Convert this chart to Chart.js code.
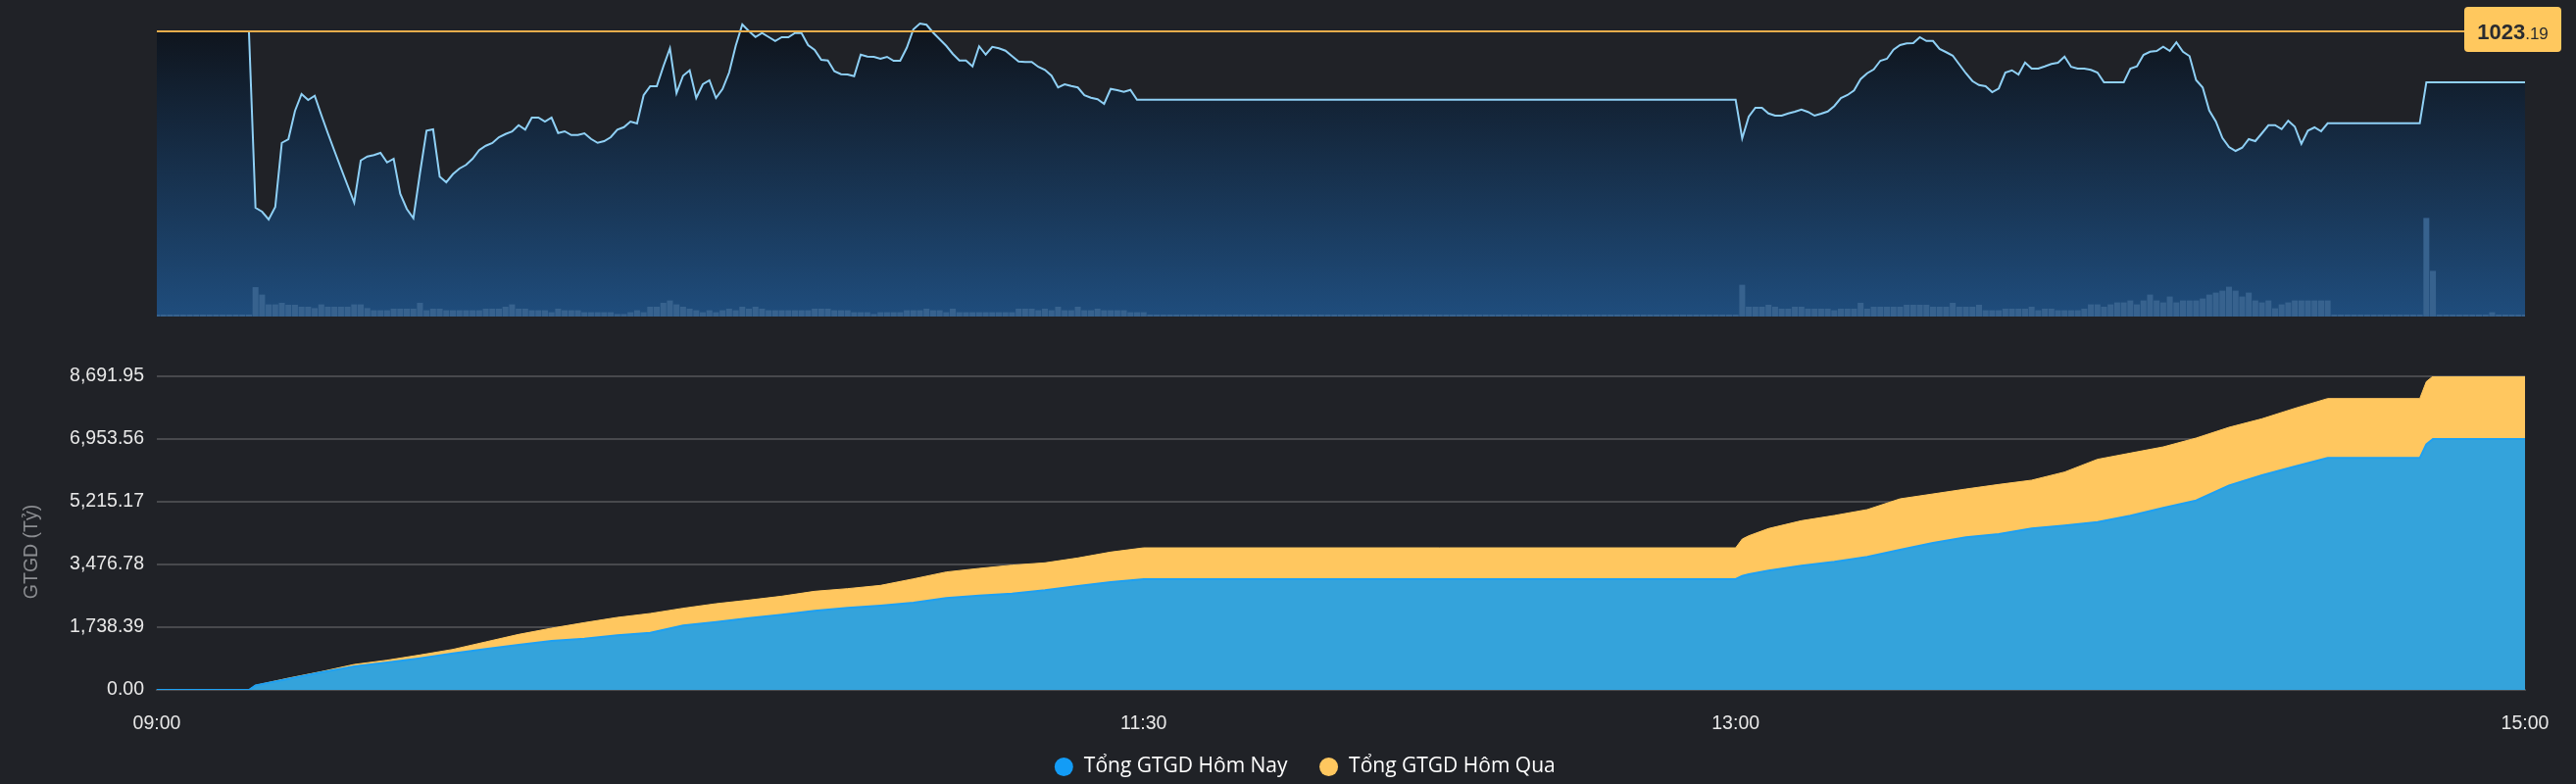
<!DOCTYPE html>
<html><head><meta charset="utf-8">
<script src="https://cdn.jsdelivr.net/npm/chart.js@4.4.0/dist/chart.umd.min.js"></script>
<style>
html,body{margin:0;padding:0;background:#202227;}
#wrap{position:relative;width:2628px;height:800px;background:#202227;overflow:hidden;}
canvas{position:absolute;left:0;}
#top{top:0;}
#bottom{top:340px;}
</style></head><body>
<div id="wrap"><canvas id="top" width="2628" height="340"></canvas><canvas id="bottom" width="2628" height="460"></canvas></div>
<script>
// ---------------- DATA ----------------
const refPrice = 1023.19;
const openTime = "09:00";
const preOpenEnd = "09:14";
const morningStart = "09:15";
// index, one value per minute 09:15 .. 11:30
const priceMorning = [
 1015.99,1015.83,1015.51,1016.02,1018.64,1018.79,1019.94,1020.63,1020.39,1020.56,
 1019.78,1019.03,1018.31,1017.60,1016.90,1016.20,1017.92,1018.08,1018.14,1018.23,
 1017.84,1017.99,1016.56,1015.94,1015.56,1017.40,1019.14,1019.19,1017.26,1017.03,
 1017.36,1017.59,1017.74,1017.99,1018.34,1018.52,1018.63,1018.87,1019.00,1019.10,
 1019.36,1019.18,1019.67,1019.67,1019.51,1019.67,1019.04,1019.11,1018.96,1018.96,
 1019.03,1018.80,1018.64,1018.71,1018.87,1019.18,1019.28,1019.51,1019.43,1020.58,
 1020.95,1020.95,1021.76,1022.50,1020.67,1021.38,1021.60,1020.47,1021.03,1021.19,
 1020.47,1020.84,1021.51,1022.60,1023.47,1023.20,1022.96,1023.12,1022.96,1022.80,
 1022.95,1022.95,1023.12,1023.12,1022.63,1022.43,1022.03,1022.00,1021.56,1021.44,
 1021.43,1021.36,1022.24,1022.16,1022.15,1022.07,1022.15,1021.99,1021.99,1022.52,
 1023.27,1023.51,1023.46,1023.14,1022.87,1022.60,1022.27,1022.00,1022.00,1021.76,
 1022.58,1022.24,1022.56,1022.50,1022.40,1022.18,1021.96,1021.94,1021.94,1021.74,
 1021.62,1021.38,1020.90,1021.03,1020.96,1020.90,1020.58,1020.48,1020.42,1020.23,
 1020.84,1020.79,1020.72,1020.80,1020.40,1020.40
];
const afternoonStart = "13:00";
// index, one value per minute 13:00 .. 14:30
const priceAfternoon = [
 1020.40,1018.82,1019.71,1020.07,1020.07,1019.84,1019.75,1019.75,1019.84,1019.91,
 1020.00,1019.90,1019.75,1019.83,1019.92,1020.14,1020.47,1020.59,1020.78,1021.24,
 1021.48,1021.64,1021.99,1022.07,1022.44,1022.63,1022.70,1022.71,1022.95,1022.80,
 1022.80,1022.47,1022.34,1022.20,1021.84,1021.48,1021.16,1021.00,1020.95,1020.71,
 1020.86,1021.51,1021.60,1021.43,1021.92,1021.67,1021.67,1021.76,1021.86,1021.91,
 1022.16,1021.74,1021.67,1021.67,1021.62,1021.51,1021.11,1021.11,1021.11,1021.11,
 1021.67,1021.76,1022.23,1022.36,1022.39,1022.56,1022.39,1022.74,1022.36,1022.18,
 1021.20,1020.90,1019.96,1019.51,1018.84,1018.47,1018.31,1018.44,1018.79,1018.71,
 1019.03,1019.36,1019.36,1019.20,1019.54,1019.30,1018.60,1019.14,1019.27,1019.11,
 1019.44
];
const atcTime = "14:45";
const atcPrice = 1021.11;
const closeTime = "15:00";

// volume, one value per minute 09:00 .. 15:00
const volumeStart = "09:00";
const volume = [
 0,0,0,0,0,0,0,0,0,0, 0,0,0,0,0,
 15.0,11.2,6.2,6.2,7.0,6.0,6.0,5.0,5.0,4.3,
 6.2,5.0,5.0,5.0,5.0,6.2,6.2,4.3,3.2,3.2,
 3.2,4.0,4.0,4.0,4.0,7.0,3.2,4.0,4.0,3.2,
 3.2,3.2,3.2,3.2,3.2,4.0,4.0,4.0,5.0,6.2,
 4.0,4.0,3.2,3.2,3.2,2.2,4.0,3.2,3.2,3.2,
 2.2,2.2,2.2,2.2,2.2,1.3,1.3,2.2,3.2,2.2,
 5.0,5.0,7.0,8.2,6.2,5.0,4.0,3.2,2.2,3.2,
 2.2,3.2,4.0,3.2,5.0,4.0,5.0,4.0,3.2,3.2,
 3.2,3.2,3.2,3.2,3.2,4.0,4.0,4.0,3.2,3.2,
 3.2,2.2,2.2,2.2,1.3,2.2,2.2,2.2,2.2,3.2,
 3.2,3.2,4.0,3.2,3.2,2.2,4.0,2.2,2.2,2.2,
 2.2,2.2,2.2,2.2,2.2,2.2,4.0,4.0,4.0,3.2,
 4.0,3.2,5.0,3.2,3.2,5.0,3.2,3.2,4.0,3.2,
 3.2,3.2,3.2,2.2,2.2,2.2,
 0,0,0,0,0,0,0,0,0,0, 0,0,0,0,0,0,0,0,0,0,
 0,0,0,0,0,0,0,0,0,0, 0,0,0,0,0,0,0,0,0,0,
 0,0,0,0,0,0,0,0,0,0, 0,0,0,0,0,0,0,0,0,0,
 0,0,0,0,0,0,0,0,0,0, 0,0,0,0,0,0,0,0,0,0,
 0,0,0,0,0,0,0,0,0,0,
 16.2,5.0,5.0,5.0,6.0,5.0,4.0,4.0,5.0,5.0,
 4.0,4.0,4.0,4.0,3.2,4.0,4.0,4.0,7.0,4.0,
 5.0,5.0,5.0,5.0,5.0,6.0,6.0,6.0,6.0,5.0,
 5.0,5.0,7.0,5.0,5.0,5.0,6.0,3.2,3.2,3.2,
 4.0,4.0,4.0,4.0,5.0,3.2,4.0,4.0,3.2,3.2,
 3.2,3.2,4.0,6.2,6.2,5.0,6.2,7.2,7.2,8.2,
 6.2,8.2,11.2,8.2,7.2,10.2,7.2,8.2,8.2,8.2,
 9.2,11.2,12.2,13.2,15.2,13.2,10.2,12.2,8.2,7.2,
 8.2,4.2,6.2,7.2,8.2,8.2,8.2,8.2,8.2,8.2,
 0,0,0,0,0,0,0,0,0,0,0,0,0,0,
 50.3,23.3,
 0,0,0,0,0,0,0,0,
 2.2,
 0,0,0,0,0
];

const gtgdTimes = ["09:00","09:14","09:15","09:20","09:25","09:30","09:35","09:40","09:45","09:50",
 "09:55","10:00","10:05","10:10","10:15","10:20","10:25","10:30","10:35","10:40",
 "10:45","10:50","10:55","11:00","11:05","11:10","11:15","11:20","11:25","11:30",
 "13:00","13:01","13:02","13:05","13:10","13:15","13:20","13:25","13:30","13:35",
 "13:40","13:45","13:50","13:55","14:00","14:05","14:10","14:15","14:20","14:25",
 "14:30","14:44","14:45","14:46","15:00"];
const gtgdToday = [0,0,127,308,489,652,761,878,1014,1132,
 1249,1358,1421,1512,1584,1784,1883,1992,2082,2191,
 2273,2336,2417,2544,2617,2671,2761,2879,2988,3069,
 3069,3160,3205,3305,3441,3549,3685,3884,4074,4228,
 4319,4473,4554,4654,4826,5043,5251,5668,5948,6193,
 6428,6428,6809,6953.56,6953.56];
const gtgdYesterday = [0,0,127,326,507,706,824,969,1123,1331,
 1539,1711,1865,2010,2119,2264,2390,2490,2598,2734,
 2807,2897,3078,3268,3368,3459,3522,3658,3821,3938,
 3938,4183,4273,4473,4690,4835,4998,5297,5432,5568,
 5695,5813,6039,6392,6564,6736,6981,7279,7515,7805,
 8076,8076,8547,8691.95,8691.95];
const gtgdTicks = [0, 1738.39, 3476.78, 5215.17, 6953.56, 8691.95];
const timeTicks = ["09:00","11:30","13:00","15:00"];
const seriesNames = ["Tổng GTGD Hôm Nay","Tổng GTGD Hôm Qua"];
const axisTitle = "GTGD (Tỷ)";

// ---------------- HELPERS ----------------
const TICK_FONT = '"Liberation Sans", Arial, Helvetica, sans-serif';
function toMin(t){const p=t.split(':').map(Number);return (p[0]-9)*60+p[1];}
function fmtTime(v){const h=9+Math.floor(v/60), m=Math.round(v%60);return String(h).padStart(2,'0')+':'+String(m).padStart(2,'0');}

const pricePts = [{x:toMin(openTime),y:refPrice},{x:toMin(preOpenEnd),y:refPrice}];
priceMorning.forEach((v,i)=>pricePts.push({x:toMin(morningStart)+i,y:v}));
priceAfternoon.forEach((v,i)=>pricePts.push({x:toMin(afternoonStart)+i,y:v}));
pricePts.push({x:toMin(atcTime)-1,y:priceAfternoon[priceAfternoon.length-1]});
pricePts.push({x:toMin(atcTime),y:atcPrice},{x:toMin(closeTime),y:atcPrice});
const volPts = volume.map((v,i)=>({x:toMin(volumeStart)+i,y:v}));
const refPts = [{x:toMin(openTime),y:refPrice},{x:toMin(closeTime),y:refPrice}];

function priceFill(context){
  const ch=context.chart, a=ch.chartArea;
  if(!a) return 'rgba(0,0,0,0)';
  const g=ch.ctx.createLinearGradient(0,a.top,0,a.bottom);
  g.addColorStop(0,'#0e1117');
  g.addColorStop(1,'#1f4d7d');
  return g;
}

const refLabelPlugin = {
  id:'refLabel',
  afterDatasetsDraw(chart){
    const c=chart.ctx, a=chart.chartArea;
    const y=chart.scales.y.getPixelForValue(refPrice);
    const parts=refPrice.toFixed(2).split('.');
    const bx=a.right-62, by=y-25, bw=99, bh=46;
    c.save();
    c.fillStyle='#ffc85e';
    c.beginPath();
    if(c.roundRect) c.roundRect(bx,by,bw,bh,4); else c.rect(bx,by,bw,bh);
    c.fill();
    c.font='bold 22px '+TICK_FONT;
    const w1=c.measureText(parts[0]).width;
    c.font='17px '+TICK_FONT;
    const w2=c.measureText('.'+parts[1]).width;
    let tx=bx+(bw-w1-w2)/2;
    c.fillStyle='#2a2b2f';
    c.textBaseline='alphabetic';
    c.textAlign='left';
    c.font='bold 22px '+TICK_FONT;
    c.fillText(parts[0],tx,y+8);
    c.font='17px '+TICK_FONT;
    c.fillText('.'+parts[1],tx+w1,y+8);
    c.restore();
  }
};

const titlePlugin = {
  id:'yTitle',
  afterLayout(chart){
    // let the x tick labels use the space down to the legend, and shift legend to its place
    const xs=chart.scales.x;
    xs.bottom = xs.top + 60;
    if(chart.legend){ chart.legend.left += 13; chart.legend.right += 13; chart.legend.top += 3; chart.legend.bottom += 3; }
  },
  afterDraw(chart){
    const c=chart.ctx, a=chart.chartArea;
    c.save();
    c.translate(33,(a.top+a.bottom)/2+19);
    c.rotate(-Math.PI/2);
    c.fillStyle='#8b8d91';
    c.font='19.5px '+TICK_FONT;
    c.textAlign='center';
    c.textBaseline='middle';
    c.fillText(axisTitle,0,0);
    c.restore();
  }
};

// ---------------- TOP CHART ----------------
new Chart(document.getElementById('top'), {
  type:'line',
  data:{datasets:[
    {type:'line',data:refPts,borderColor:'#e6ad4c',borderWidth:2,pointRadius:0,yAxisID:'y',order:0},
    {type:'line',data:pricePts,borderColor:'#8fd0f5',borderWidth:2,pointRadius:0,tension:0,fill:'start',backgroundColor:priceFill,yAxisID:'y',order:3},
    {type:'bar',data:volPts,backgroundColor:'#37628e',yAxisID:'yv',order:2,barPercentage:1,categoryPercentage:0.9,minBarLength:2}
  ]},
  options:{
    responsive:false,animation:false,devicePixelRatio:1,
    layout:{padding:{left:160,right:52,top:12,bottom:17}},
    plugins:{legend:{display:false},tooltip:{enabled:false}},
    scales:{
      x:{type:'linear',min:0,max:360,display:false,offset:false,grid:{offset:false}},
      y:{min:1011.55,max:1023.99,display:false},
      yv:{min:0,max:155.5,display:false,beginAtZero:true}
    }
  },
  plugins:[refLabelPlugin]
});

// ---------------- BOTTOM CHART ----------------
const legendColors = ['#139cf6','#ffc75f'];
new Chart(document.getElementById('bottom'), {
  type:'line',
  data:{datasets:[
    {label:seriesNames[0],data:gtgdTimes.map((t,i)=>({x:toMin(t),y:gtgdToday[i]})),borderColor:'#1ea0f2',borderWidth:2,backgroundColor:'#34a3db',fill:'origin',pointRadius:0,tension:0,order:1},
    {label:seriesNames[1],data:gtgdTimes.map((t,i)=>({x:toMin(t),y:gtgdYesterday[i]})),borderColor:'#ffc75f',borderWidth:1,backgroundColor:'#ffc75f',fill:'origin',pointRadius:0,tension:0,order:2}
  ]},
  options:{
    responsive:false,animation:false,devicePixelRatio:1,
    layout:{padding:{left:60,right:52,top:44,bottom:0}},
    plugins:{
      tooltip:{enabled:false},
      legend:{position:'bottom',labels:{
        usePointStyle:true,pointStyle:'circle',boxWidth:20,boxHeight:13.4,padding:32,color:'#ffffff',
        font:{family:'"Open Sans", "Noto Sans", sans-serif',size:21},
        generateLabels:(chart)=>chart.data.datasets.map((ds,i)=>({text:ds.label,fillStyle:legendColors[i],strokeStyle:legendColors[i],lineWidth:0,pointStyle:'circle',hidden:false,datasetIndex:i,fontColor:'#ffffff'}))
      }}
    },
    scales:{
      x:{type:'linear',min:0,max:360,offset:false,z:1,
        grid:{display:false},
        border:{display:true,color:'#48494d',width:2},
        afterBuildTicks:(s)=>{s.ticks=timeTicks.map(t=>({value:toMin(t)}));},
        afterFit:(s)=>{s.height=33;},
        ticks:{autoSkip:false,maxRotation:0,padding:15,color:'#e8e8e8',font:{family:TICK_FONT,size:19.5},callback:(v)=>fmtTime(v)}
      },
      y:{min:0,max:gtgdTicks[gtgdTicks.length-1],
        afterBuildTicks:(s)=>{s.ticks=gtgdTicks.map(v=>({value:v}));},
        afterFit:(s)=>{s.width=100;},
        grid:{color:'#48494d',lineWidth:2,drawTicks:false},
        border:{display:false},
        ticks:{padding:13,color:'#e8e8e8',font:{family:TICK_FONT,size:19.5},
          callback:(v)=>Number(v).toLocaleString('en-US',{minimumFractionDigits:2,maximumFractionDigits:2})}
      }
    }
  },
  plugins:[titlePlugin]
});
</script></body></html>
